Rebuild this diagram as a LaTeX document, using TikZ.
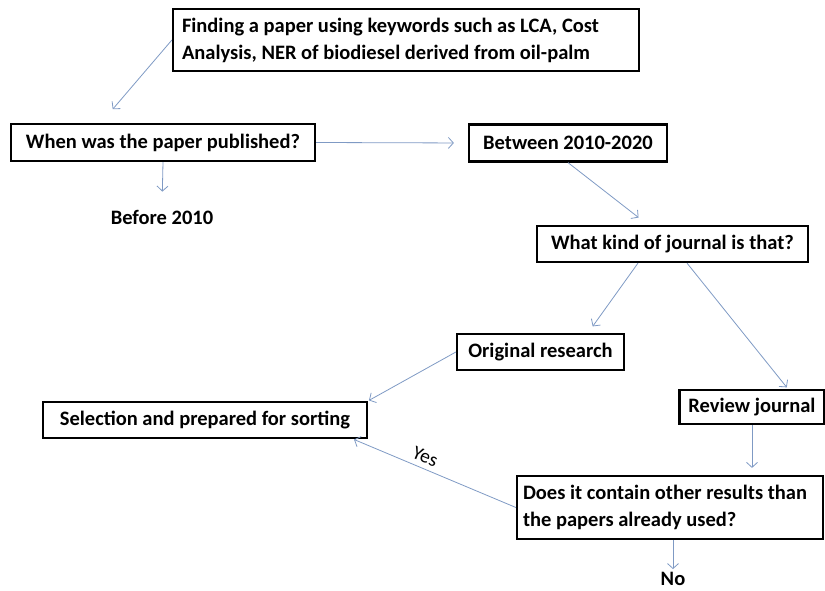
\documentclass[tikz,border=0pt]{standalone}
\usepackage{fontspec}
\setmainfont{Carlito}
\usepackage{tikz}
\usetikzlibrary{arrows.meta,positioning}
\definecolor{flowblue}{HTML}{7F9AC4}

\begin{document}
\begin{tikzpicture}[
    x=1pt, y=-1pt,
    box/.style={rectangle, draw=black, line width=2.2pt, inner xsep=9pt, inner ysep=3pt, font=\fontsize{20.5}{27}\selectfont\bfseries, align=center},
    answer/.style={inner sep=2pt, font=\fontsize{20.5}{27}\selectfont\bfseries},
    arrow/.style={-{Straight Barb[length=5pt, width=11pt]}, draw=flowblue, line width=0.8pt},
    label/.style={font=\fontsize{19.5}{21}\selectfont}
]
\useasboundingbox (0,0) rectangle (825,591);

% Search
\node[box, align=flush left, text width=448pt, minimum height=62pt] (find) at (406,40) {Finding a paper using keywords such as LCA, Cost\\Analysis, NER of biodiesel derived from oil-palm};

% Publication year
\node[box, minimum width=304pt, minimum height=37pt] (when) at (163,142.5) {When was the paper published?};
\node[box, minimum width=198pt, minimum height=37pt] (between) at (568,143) {Between 2010-2020};
\node[answer] (before) at (162,217) {Before 2010};

% Journal type
\node[box, minimum width=271pt, minimum height=36pt] (journal) at (672.5,244) {What kind of journal is that?};
\node[box, minimum width=167pt, minimum height=36pt] (orig) at (540.5,352) {Original research};
\node[box, minimum width=142pt, minimum height=34pt] (review) at (752,407) {Review journal};

% Check
\node[box, align=flush left, inner xsep=6pt, text width=294pt, minimum height=63pt] (does) at (670,507.5) {Does it contain other results than\\the papers already used?};
\node[answer] (no) at (673,579) {No};

% Output
\node[box, minimum width=324pt, minimum height=36pt] (select) at (205,420) {Selection and prepared for sorting};

% Arrows
\draw[arrow, shorten >=18pt] (find.west) -- ([xshift=-62pt]when.north);
\draw[arrow, shorten >=14pt] (when.east) -- (between.west);
\draw[arrow, shorten >=16pt] (when.south) -- (before.north);
\draw[arrow, shorten >=12pt] (between.south) -- ([xshift=-24.5pt]journal.north);
\draw[arrow, shorten >=8pt] ([xshift=-34.5pt]journal.south) -- ([xshift=47.5pt]orig.north);
\draw[arrow, shorten >=2pt] ([xshift=14.5pt]journal.south) -- ([xshift=36pt]review.north);
\draw[arrow, shorten >=1pt] (orig.west) -- (select.north east);
\draw[arrow, shorten >=7pt] (review.south) -- (review.south |- does.north);
\draw[arrow, shorten >=1pt] (does.west) -- node[label, pos=0.585, sloped, above=2pt] {Yes} ([xshift=-15pt]select.south east);
\draw[arrow, shorten >=1pt] ([xshift=3pt]does.south) -- ([xshift=3pt]does.south |- no.north);

\end{tikzpicture}
\end{document}
